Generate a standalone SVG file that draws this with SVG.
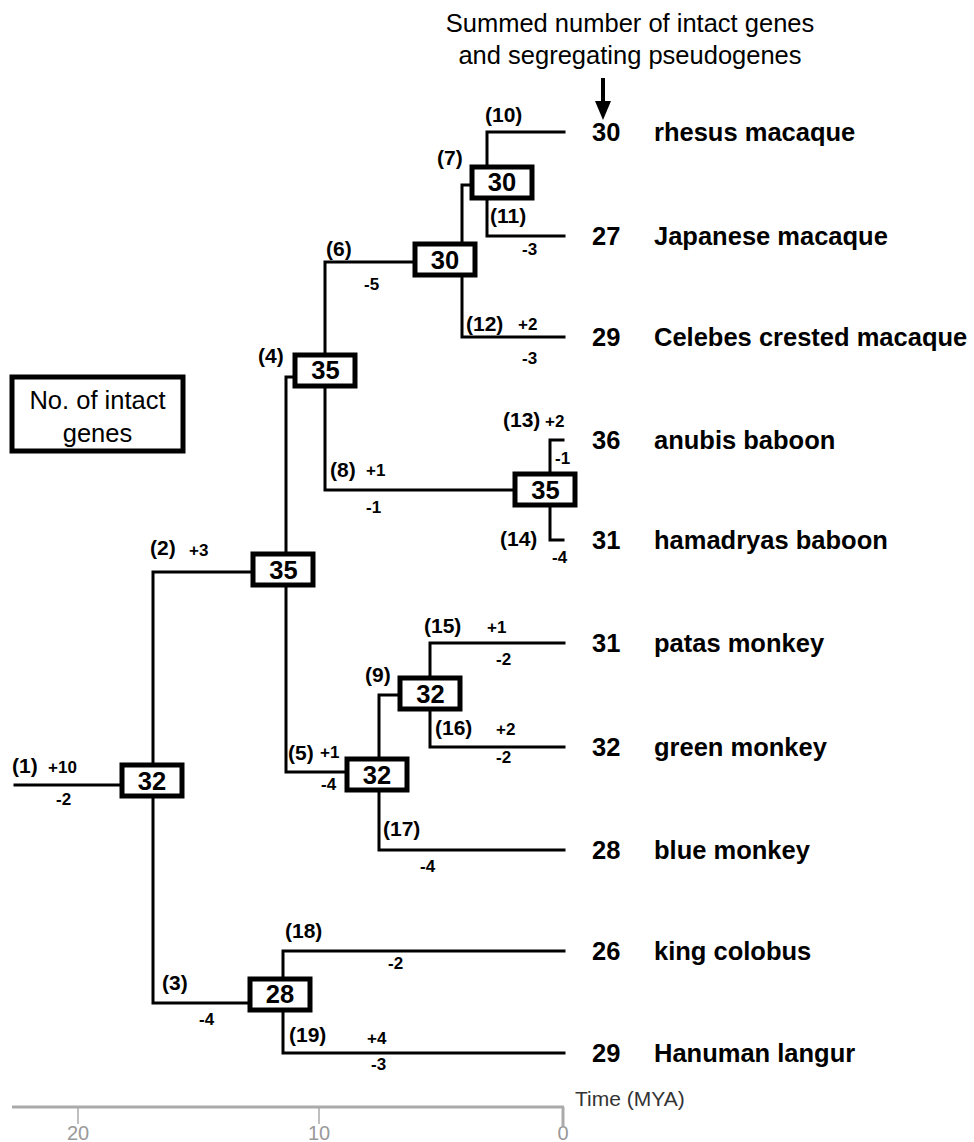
<svg xmlns="http://www.w3.org/2000/svg" width="974" height="1142" viewBox="0 0 974 1142">
<style>
.e{stroke:#000;stroke-width:3;fill:none;stroke-linecap:square}
.bx{fill:#fff;stroke:#000;stroke-width:5}
.bt{font-family:"Liberation Sans",Arial,sans-serif;font-weight:bold;font-size:25.5px;text-anchor:middle}
.n{font-family:"Liberation Sans",Arial,sans-serif;font-weight:bold;font-size:21px}
.c{font-family:"Liberation Sans",Arial,sans-serif;font-weight:bold;font-size:17px}
.sp{font-family:"Liberation Sans",Arial,sans-serif;font-weight:bold;font-size:25.5px}
.rg{font-family:"Liberation Sans",Arial,sans-serif;font-size:25.5px;text-anchor:middle}
.ax{stroke:#aaa;fill:none}
.at{font-family:"Liberation Sans",Arial,sans-serif;font-size:20px;fill:#999;text-anchor:middle}
</style>
<rect width="974" height="1142" fill="#fff"/>
<g id="title">
<text class="rg" x="630" y="32">Summed number of intact genes</text>
<text class="rg" x="630" y="64">and segregating pseudogenes</text>
<line x1="603" y1="78" x2="603" y2="104" stroke="#000" stroke-width="4"/>
<polygon points="595,101 611,101 603,120" fill="#000"/>
</g>
<g id="legend">
<rect x="12" y="377" width="171" height="74" class="bx"/>
<text class="rg" x="97.5" y="409">No. of intact</text>
<text class="rg" x="97.5" y="442">genes</text>
</g>
<g id="connectors">
<path class="e" d="M15,785H122"/>
<path class="e" d="M251,572H153V1003H248"/>
<path class="e" d="M293,377H286V772H345"/>
<path class="e" d="M413,262H325V490H513"/>
<path class="e" d="M470,185H462V337H564"/>
<path class="e" d="M564,132H487V236H564"/>
<path class="e" d="M563,440H550V540H563"/>
<path class="e" d="M398,695H379V850H564"/>
<path class="e" d="M564,643H430V747H564"/>
<path class="e" d="M564,951H283V1053H564"/>
</g>
<g id="branch-labels">
<text class="n" x="12" y="773">(1)</text><text class="c" x="48" y="773">+10</text><text class="c" x="56" y="805">-2</text>
<text class="n" x="150" y="555">(2)</text><text class="c" x="189" y="556">+3</text>
<text class="n" x="162" y="990">(3)</text><text class="c" x="199" y="1025">-4</text>
<text class="n" x="258" y="363">(4)</text>
<text class="n" x="288" y="760">(5)</text><text class="c" x="320" y="758">+1</text><text class="c" x="321" y="790">-4</text>
<text class="n" x="326" y="256">(6)</text><text class="c" x="364" y="290">-5</text>
<text class="n" x="437" y="165">(7)</text>
<text class="n" x="330" y="477">(8)</text><text class="c" x="366" y="476">+1</text><text class="c" x="366" y="513">-1</text>
<text class="n" x="365" y="682">(9)</text>
<text class="n" x="485" y="122">(10)</text>
<text class="n" x="490" y="223">(11)</text><text class="c" x="522" y="255">-3</text>
<text class="n" x="466" y="331">(12)</text><text class="c" x="518" y="330">+2</text><text class="c" x="522" y="364">-3</text>
<text class="n" x="503" y="427">(13)</text><text class="c" x="545" y="427">+2</text><text class="c" x="555" y="464">-1</text>
<text class="n" x="500" y="546">(14)</text><text class="c" x="552" y="563">-4</text>
<text class="n" x="424" y="633">(15)</text><text class="c" x="487" y="633">+1</text><text class="c" x="496" y="665">-2</text>
<text class="n" x="435" y="735">(16)</text><text class="c" x="496" y="735">+2</text><text class="c" x="496" y="763">-2</text>
<text class="n" x="383" y="836">(17)</text><text class="c" x="420" y="872">-4</text>
<text class="n" x="285" y="938">(18)</text><text class="c" x="388" y="969">-2</text>
<text class="n" x="289" y="1042">(19)</text><text class="c" x="367" y="1044">+4</text><text class="c" x="371" y="1070">-3</text>
</g>
<g id="node-root"><rect class="bx" x="122" y="765" width="60" height="31"/><text class="bt" x="152" y="790">32</text></g>
<g id="node-2"><rect class="bx" x="253" y="554" width="60" height="31"/><text class="bt" x="283.5" y="579">35</text></g>
<g id="node-4"><rect class="bx" x="295" y="355" width="60" height="31"/><text class="bt" x="325.5" y="379">35</text></g>
<g id="node-6"><rect class="bx" x="415" y="244" width="60" height="31"/><text class="bt" x="445" y="269">30</text></g>
<g id="node-7"><rect class="bx" x="472" y="167" width="60" height="31"/><text class="bt" x="502" y="191">30</text></g>
<g id="node-8"><rect class="bx" x="515" y="474" width="60" height="31"/><text class="bt" x="545.5" y="499">35</text></g>
<g id="node-5"><rect class="bx" x="347" y="759" width="60" height="31"/><text class="bt" x="377" y="784">32</text></g>
<g id="node-9"><rect class="bx" x="400" y="678" width="60" height="31"/><text class="bt" x="430.5" y="703">32</text></g>
<g id="node-3"><rect class="bx" x="250" y="979" width="60" height="31"/><text class="bt" x="280" y="1003">28</text></g>
<g id="leaf-rhesus"><text class="sp" x="592" y="141">30</text><text class="sp" x="654" y="141">rhesus macaque</text></g>
<g id="leaf-japanese"><text class="sp" x="592" y="245">27</text><text class="sp" x="654" y="245">Japanese macaque</text></g>
<g id="leaf-celebes"><text class="sp" x="592" y="346">29</text><text class="sp" x="654" y="346">Celebes crested macaque</text></g>
<g id="leaf-anubis"><text class="sp" x="592" y="449">36</text><text class="sp" x="654" y="449">anubis baboon</text></g>
<g id="leaf-hamadryas"><text class="sp" x="592" y="549">31</text><text class="sp" x="654" y="549">hamadryas baboon</text></g>
<g id="leaf-patas"><text class="sp" x="592" y="652">31</text><text class="sp" x="654" y="652">patas monkey</text></g>
<g id="leaf-green"><text class="sp" x="592" y="756">32</text><text class="sp" x="654" y="756">green monkey</text></g>
<g id="leaf-blue"><text class="sp" x="592" y="859">28</text><text class="sp" x="654" y="859">blue monkey</text></g>
<g id="leaf-colobus"><text class="sp" x="592" y="960">26</text><text class="sp" x="654" y="960">king colobus</text></g>
<g id="leaf-hanuman"><text class="sp" x="592" y="1062">29</text><text class="sp" x="654" y="1062">Hanuman langur</text></g>
<g id="time-axis">
<line class="ax" x1="12" y1="1107" x2="564" y2="1107" stroke-width="3"/>
<line class="ax" x1="78" y1="1107" x2="78" y2="1124" stroke="#888" stroke-width="1.5"/>
<line class="ax" x1="319" y1="1107" x2="319" y2="1124" stroke="#888" stroke-width="1.5"/>
<line class="ax" x1="563" y1="1107" x2="563" y2="1126" stroke-width="3"/>
<text class="at" x="78" y="1140">20</text>
<text class="at" x="319" y="1140">10</text>
<text class="at" x="563" y="1140">0</text>
<text x="575" y="1106" font-family="Liberation Sans, Arial, sans-serif" font-size="21" fill="#333">Time (MYA)</text>
</g>
</svg>
